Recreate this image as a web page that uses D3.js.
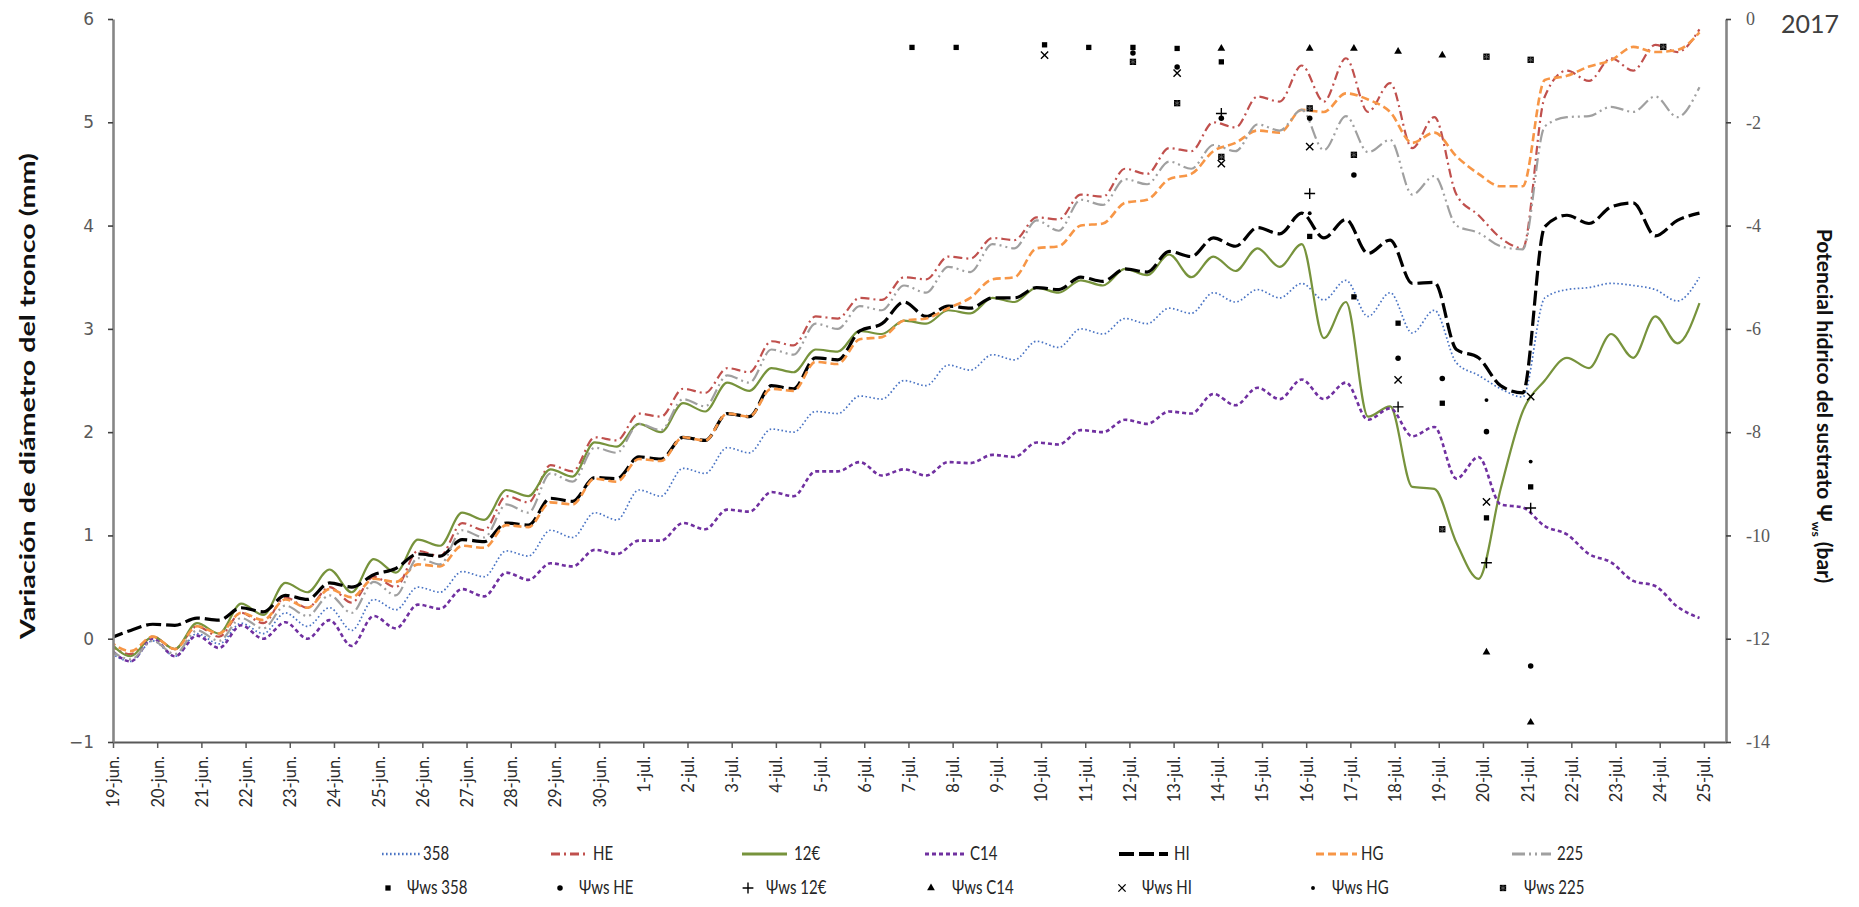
<!DOCTYPE html>
<html>
<head>
<meta charset="utf-8">
<script src="https://cdn.jsdelivr.net/npm/d3@7"></script>
<style>
  body { margin: 0; background: #fff; }
  svg { display: block; }
</style>
</head>
<body>
<svg id="chart" width="1859" height="907"></svg>
<script>
// Dates on the horizontal axis (one tick per day)
const dayLabels = [
  "19-jun.", "20-jun.", "21-jun.", "22-jun.", "23-jun.", "24-jun.", "25-jun.", "26-jun.",
  "27-jun.", "28-jun.", "29-jun.", "30-jun.", "1-jul.", "2-jul.", "3-jul.", "4-jul.",
  "5-jul.", "6-jul.", "7-jul.", "8-jul.", "9-jul.", "10-jul.", "11-jul.", "12-jul.",
  "13-jul.", "14-jul.", "15-jul.", "16-jul.", "17-jul.", "18-jul.", "19-jul.", "20-jul.",
  "21-jul.", "22-jul.", "23-jul.", "24-jul.", "25-jul."
];

// Daily trunk diameter readings (mm): night maximum and afternoon minimum of each day
const MAX_OFFSET = -0.1;   // day fraction of the maximum reading
const MIN_OFFSET = 0.4;    // day fraction of the minimum reading

const max358 = [-0.12, -0.02, 0.05, 0.15, 0.25, 0.3, 0.38, 0.5, 0.65, 0.85, 1.05, 1.22, 1.44, 1.65, 1.85, 2.03, 2.2, 2.35, 2.5, 2.65, 2.75, 2.88, 3.0, 3.1, 3.2, 3.35, 3.38, 3.44, 3.47, 3.35, 3.18, 2.55, 2.34, 3.38, 3.44, 3.38, 3.5];
const min358 = [-0.22, -0.17, -0.05, 0.05, 0.12, 0.08, 0.28, 0.45, 0.6, 0.8, 0.98, 1.15, 1.38, 1.6, 1.8, 2.0, 2.18, 2.32, 2.45, 2.6, 2.7, 2.82, 2.95, 3.05, 3.15, 3.26, 3.3, 3.28, 3.12, 2.96, 2.67, 2.42, 3.3, 3.4, 3.42, 3.27];

const maxHE = [-0.05, 0.02, 0.12, 0.25, 0.4, 0.5, 0.6, 0.85, 1.12, 1.38, 1.68, 1.95, 2.18, 2.42, 2.62, 2.88, 3.12, 3.3, 3.5, 3.7, 3.88, 4.08, 4.3, 4.55, 4.75, 5.0, 5.25, 5.55, 5.62, 5.38, 5.05, 4.1, 3.78, 5.5, 5.62, 5.75, 5.9];
const minHE = [-0.15, -0.1, 0.02, 0.15, 0.3, 0.35, 0.5, 0.8, 1.05, 1.32, 1.62, 1.92, 2.15, 2.38, 2.58, 2.84, 3.1, 3.28, 3.48, 3.68, 3.86, 4.06, 4.28, 4.5, 4.72, 4.95, 5.2, 5.2, 5.1, 4.75, 4.3, 3.88, 5.25, 5.4, 5.5, 5.68];

const max12 = [-0.02, 0.02, 0.15, 0.34, 0.54, 0.67, 0.77, 0.96, 1.22, 1.44, 1.64, 1.9, 2.08, 2.28, 2.48, 2.62, 2.8, 2.98, 3.08, 3.18, 3.3, 3.4, 3.47, 3.58, 3.72, 3.7, 3.78, 3.82, 3.26, 2.25, 1.45, 0.58, 2.2, 2.72, 2.95, 3.12, 3.25];
const min12 = [-0.17, -0.1, 0.05, 0.23, 0.45, 0.45, 0.64, 0.9, 1.15, 1.38, 1.57, 1.86, 2.0, 2.2, 2.4, 2.58, 2.78, 2.95, 3.05, 3.15, 3.26, 3.35, 3.42, 3.52, 3.5, 3.56, 3.6, 2.91, 2.15, 1.47, 0.93, 1.45, 2.5, 2.62, 2.72, 2.86];

const maxC14 = [-0.08, 0.0, 0.03, 0.13, 0.16, 0.18, 0.22, 0.33, 0.48, 0.64, 0.73, 0.86, 0.95, 1.12, 1.25, 1.42, 1.62, 1.71, 1.64, 1.71, 1.78, 1.9, 2.02, 2.12, 2.2, 2.37, 2.43, 2.51, 2.48, 2.23, 2.05, 1.76, 1.27, 1.01, 0.74, 0.51, 0.2];
const minC14 = [-0.22, -0.17, -0.09, 0.0, 0.0, -0.07, 0.1, 0.29, 0.41, 0.57, 0.7, 0.82, 0.95, 1.06, 1.23, 1.38, 1.62, 1.58, 1.58, 1.7, 1.76, 1.88, 2.0, 2.08, 2.18, 2.26, 2.32, 2.32, 2.12, 1.96, 1.55, 1.3, 1.09, 0.82, 0.56, 0.31];

const maxHI = [0.0, 0.14, 0.2, 0.3, 0.42, 0.54, 0.62, 0.82, 0.96, 1.12, 1.36, 1.56, 1.76, 1.95, 2.18, 2.45, 2.72, 2.98, 3.26, 3.22, 3.3, 3.4, 3.5, 3.58, 3.75, 3.88, 3.98, 4.12, 4.06, 3.86, 3.45, 2.72, 2.38, 4.1, 4.18, 3.9, 4.12];
const minHI = [0.08, 0.13, 0.18, 0.26, 0.38, 0.5, 0.68, 0.8, 0.94, 1.1, 1.33, 1.55, 1.74, 1.92, 2.15, 2.42, 2.7, 3.05, 3.12, 3.2, 3.3, 3.38, 3.46, 3.55, 3.7, 3.8, 3.92, 3.88, 3.73, 3.44, 2.8, 2.45, 3.99, 4.02, 4.22, 4.05];

const maxHG = [-0.02, 0.02, 0.12, 0.25, 0.38, 0.48, 0.58, 0.72, 0.9, 1.1, 1.32, 1.55, 1.74, 1.95, 2.18, 2.42, 2.68, 2.9, 3.08, 3.2, 3.48, 3.78, 4.0, 4.22, 4.45, 4.72, 4.92, 5.12, 5.28, 5.1, 4.9, 4.5, 4.38, 5.45, 5.6, 5.68, 5.87];
const minHG = [-0.12, -0.1, 0.05, 0.18, 0.3, 0.4, 0.55, 0.7, 0.88, 1.08, 1.3, 1.52, 1.72, 1.92, 2.15, 2.4, 2.66, 2.92, 3.1, 3.3, 3.5, 3.8, 4.02, 4.25, 4.5, 4.8, 4.9, 5.1, 5.22, 4.8, 4.67, 4.38, 5.41, 5.54, 5.73, 5.7];

const max225 = [-0.1, -0.02, 0.08, 0.2, 0.32, 0.42, 0.55, 0.78, 1.05, 1.3, 1.6, 1.85, 2.08, 2.32, 2.55, 2.8, 3.05, 3.22, 3.42, 3.6, 3.82, 4.05, 4.25, 4.45, 4.62, 4.78, 4.98, 5.12, 5.06, 4.83, 4.48, 3.93, 3.77, 5.05, 5.15, 5.25, 5.34];
const min225 = [-0.2, -0.15, -0.02, 0.1, 0.22, 0.25, 0.42, 0.72, 0.98, 1.22, 1.52, 1.8, 2.02, 2.25, 2.48, 2.75, 3.0, 3.18, 3.35, 3.55, 3.78, 3.95, 4.2, 4.4, 4.55, 4.72, 4.92, 4.73, 4.71, 4.3, 4.0, 3.8, 4.96, 5.06, 5.1, 5.05];

// Substrate water potential measurements (bar), right axis
const wsDates = ["7-jul.", "8-jul.", "10-jul.", "11-jul.", "12-jul.", "13-jul.", "14-jul.", "16-jul.", "17-jul.", "18-jul.", "19-jul.", "20-jul.", "21-jul.", "24-jul."];
const ws358 = [-0.55, -0.55, -0.5, -0.55, -0.55, -0.57, -0.83, -4.21, -5.38, -5.89, -7.44, -9.66, -9.06, null];
const wsHE  = [null, null, null, null, -0.66, -0.93, -1.92, -1.92, -3.02, -6.57, -6.96, -7.99, -12.53, null];
const ws12  = [null, null, null, null, null, null, -1.83, -3.38, null, -7.51, null, -10.53, -9.47, null];
const wsC14 = [null, null, null, null, null, null, -0.57, -0.57, -0.57, -0.63, -0.7, -12.26, -13.62, null];
const wsHI  = [null, null, -0.7, null, null, -1.05, -2.8, -2.47, null, -6.99, null, -9.35, -7.31, null];
const wsHG  = [null, null, null, null, null, null, null, -3.76, null, null, null, -7.38, -8.57, null];
const ws225 = [null, null, null, null, -0.83, -1.63, -2.67, -1.73, -2.63, null, -9.88, -0.73, -0.79, -0.54];

const leftTicks = [-1, 0, 1, 2, 3, 4, 5, 6];
const rightTicks = [0, -2, -4, -6, -8, -10, -12, -14];

// ---------------------------------------------------------------------------
const svg = d3.select("#chart");
const x = d3.scaleLinear().domain([0, 36.5]).range([113, 1726]);
const yL = d3.scaleLinear().domain([-1, 6]).range([742, 19]);
const yR = d3.scaleLinear().domain([-14, 0]).range([742, 19]);

const lineSeries = [
  { label: "358", max: max358, min: min358, color: "#4a74c4", width: 1.7, dash: "1.6,2.4" },
  { label: "HE",  max: maxHE,  min: minHE,  color: "#c0504d", width: 2.2, dash: "9,4,2,4" },
  { label: "12€", max: max12,  min: min12,  color: "#77933c", width: 2.2, dash: null },
  { label: "C14", max: maxC14, min: minC14, color: "#7030a0", width: 2.6, dash: "4,3" },
  { label: "HI",  max: maxHI,  min: minHI,  color: "#000000", width: 3.2, dash: "15,5" },
  { label: "HG",  max: maxHG,  min: minHG,  color: "#f79646", width: 2.6, dash: "8,4" },
  { label: "225", max: max225, min: min225, color: "#a0a0a0", width: 2.2, dash: "13,4,2,4,2,4" }
];

const markerSeries = [
  { label: "Ψws 358", values: ws358, kind: "square" },
  { label: "Ψws HE",  values: wsHE,  kind: "circle" },
  { label: "Ψws 12€", values: ws12,  kind: "plus" },
  { label: "Ψws C14", values: wsC14, kind: "triangle" },
  { label: "Ψws HI",  values: wsHI,  kind: "times" },
  { label: "Ψws HG",  values: wsHG,  kind: "dot" },
  { label: "Ψws 225", values: ws225, kind: "bigsquare" }
];

function seriesPoints(s) {
  const pts = [];
  for (let d = 0; d < s.max.length; d++) {
    pts.push([d + MAX_OFFSET, s.max[d]]);
    if (d < s.min.length) pts.push([d + MIN_OFFSET, s.min[d]]);
  }
  return pts;
}

svg.append("defs").append("clipPath").attr("id", "plotClip")
  .append("rect").attr("x", 113).attr("y", 0).attr("width", 1726 - 113).attr("height", 742);

// Lines
const line = d3.line()
  .x(p => x(p[0]))
  .y(p => yL(p[1]))
  .curve(d3.curveMonotoneX);

const linesG = svg.append("g").attr("clip-path", "url(#plotClip)");
lineSeries.forEach(s => {
  linesG.append("path")
    .datum(seriesPoints(s))
    .attr("fill", "none")
    .attr("stroke", s.color)
    .attr("stroke-width", s.width)
    .attr("stroke-dasharray", s.dash)
    .attr("stroke-linejoin", "round")
    .attr("d", line);
});

// Marker symbols
const strokeSym = (name, fallback) => d3[name] || fallback;
function drawMarker(g, kind, cx, cy) {
  const t = `translate(${cx},${cy})`;
  if (kind === "square") {
    g.append("path").attr("transform", t).attr("d", d3.symbol(d3.symbolSquare, 28)()).attr("fill", "#000");
  } else if (kind === "bigsquare") {
    g.append("path").attr("transform", t).attr("d", d3.symbol(d3.symbolSquare, 40)()).attr("fill", "#000");
    g.append("path").attr("transform", t).attr("d", d3.symbol(strokeSym("symbolAsterisk", d3.symbolCross), 24)())
      .attr("fill", "none").attr("stroke", "#666").attr("stroke-width", 0.8);
  } else if (kind === "circle") {
    g.append("path").attr("transform", t).attr("d", d3.symbol(d3.symbolCircle, 24)()).attr("fill", "#000");
  } else if (kind === "dot") {
    g.append("path").attr("transform", t).attr("d", d3.symbol(d3.symbolCircle, 12)()).attr("fill", "#000");
  } else if (kind === "triangle") {
    g.append("path").attr("transform", t).attr("d", d3.symbol(d3.symbolTriangle, 26)()).attr("fill", "#000");
  } else if (kind === "plus") {
    g.append("path").attr("transform", t).attr("d", d3.symbol(strokeSym("symbolPlus", d3.symbolCross), 40)())
      .attr("fill", "none").attr("stroke", "#000").attr("stroke-width", 1.4);
  } else if (kind === "times") {
    g.append("path").attr("transform", t).attr("d", d3.symbol(strokeSym("symbolTimes", d3.symbolCross), 36)())
      .attr("fill", "none").attr("stroke", "#000").attr("stroke-width", 1.4);
  }
}

const markersG = svg.append("g");
markerSeries.forEach(m => {
  m.values.forEach((v, i) => {
    if (v === null) return;
    const day = dayLabels.indexOf(wsDates[i]) + 0.08;
    drawMarker(markersG, m.kind, x(day), yR(v));
  });
});

// Axes
const axisColor = "#868686";
const xAxis = svg.append("g")
  .attr("transform", "translate(0,742)")
  .call(d3.axisBottom(x).tickValues(d3.range(dayLabels.length)).tickFormat(i => dayLabels[i]).tickSize(6).tickSizeOuter(0));
xAxis.select(".domain").attr("stroke", "#595959").attr("stroke-width", 2.2);
xAxis.selectAll(".tick line").attr("stroke", "#595959").attr("stroke-width", 1.5);
xAxis.selectAll(".tick text")
  .attr("transform", "rotate(-90)")
  .attr("text-anchor", "end")
  .attr("x", -14)
  .attr("y", 0)
  .attr("dy", "0.36em")
  .attr("fill", "#2b2b2b")
  .style("font-family", "Lato, 'Open Sans', sans-serif")
  .style("font-size", "16.5px");

const leftAxis = svg.append("g")
  .attr("transform", "translate(113,0)")
  .call(d3.axisLeft(yL).tickValues(leftTicks).tickFormat(d3.format("d")).tickSize(5).tickPadding(14).tickSizeOuter(0));
leftAxis.select(".domain").attr("stroke", axisColor).attr("stroke-width", 2.6);
leftAxis.selectAll(".tick line").attr("stroke", "#404040").attr("stroke-width", 1.6);
leftAxis.selectAll(".tick text")
  .attr("fill", "#595959")
  .style("font-family", "'DejaVu Sans', sans-serif")
  .style("font-size", "17px");

const rightAxis = svg.append("g")
  .attr("transform", "translate(1726,0)")
  .call(d3.axisRight(yR).tickValues(rightTicks).tickFormat(d3.format("d")).tickSize(5).tickPadding(15).tickSizeOuter(0));
rightAxis.select(".domain").attr("stroke", axisColor).attr("stroke-width", 2.6);
rightAxis.selectAll(".tick line").attr("stroke", "#404040").attr("stroke-width", 1.6);
rightAxis.selectAll(".tick text")
  .text(d => d3.format("d")(d).replace("−", "-"))
  .attr("fill", "#595959")
  .style("font-family", "'Liberation Serif', serif")
  .style("font-size", "18px");

// Axis titles
svg.append("text")
  .attr("transform", "translate(35,396) rotate(-90)")
  .attr("text-anchor", "middle")
  .attr("fill", "#111")
  .style("font-family", "Lato, sans-serif")
  .style("font-weight", "bold")
  .style("font-size", "21px")
  .attr("textLength", 486)
  .attr("lengthAdjust", "spacingAndGlyphs")
  .text("Variación de diámetro del tronco (mm)");

const rTitle = svg.append("text")
  .attr("transform", "translate(1817,406) rotate(90)")
  .attr("text-anchor", "middle")
  .attr("fill", "#111")
  .style("font-family", "Lato, sans-serif")
  .style("font-weight", "bold")
  .style("font-size", "21px");
rTitle.append("tspan").text("Potencial hídrico del sustrato Ψ");
rTitle.append("tspan").attr("dy", 5).style("font-size", "12px").text("ws");
rTitle.append("tspan").attr("dy", -5).text(" (bar)");

// Year tag
svg.append("text")
  .attr("x", 1781).attr("y", 33)
  .attr("fill", "#404040")
  .style("font-family", "Lato, sans-serif")
  .style("font-size", "25px")
  .text("2017");

// Legend
const legendFont = "Lato, sans-serif";
const row1 = [[382, 420, 423], [551, 586, 593], [742, 787, 794], [925, 966, 970], [1119, 1168, 1174], [1316, 1357, 1361], [1512, 1551, 1557]];
lineSeries.forEach((s, i) => {
  const [x1, x2, tx] = row1[i];
  svg.append("line")
    .attr("x1", x1).attr("x2", x2).attr("y1", 854).attr("y2", 854)
    .attr("stroke", s.color).attr("stroke-width", s.width + 0.6)
    .attr("stroke-dasharray", s.dash);
  svg.append("text")
    .attr("transform", `translate(${tx},860) scale(1,1.3)`)
    .attr("fill", "#262626")
    .style("font-family", legendFont).style("font-size", "15px")
    .text(s.label);
});
const row2 = [[388, 407], [560, 579], [748, 766], [931, 952], [1122, 1142], [1313, 1332], [1503, 1524]];
markerSeries.forEach((m, i) => {
  const [mx, tx] = row2[i];
  drawMarker(svg, m.kind, mx, 888);
  svg.append("text")
    .attr("transform", `translate(${tx},894) scale(1,1.3)`)
    .attr("fill", "#262626")
    .style("font-family", legendFont).style("font-size", "15px")
    .text(m.label);
});
</script>
</body>
</html>
